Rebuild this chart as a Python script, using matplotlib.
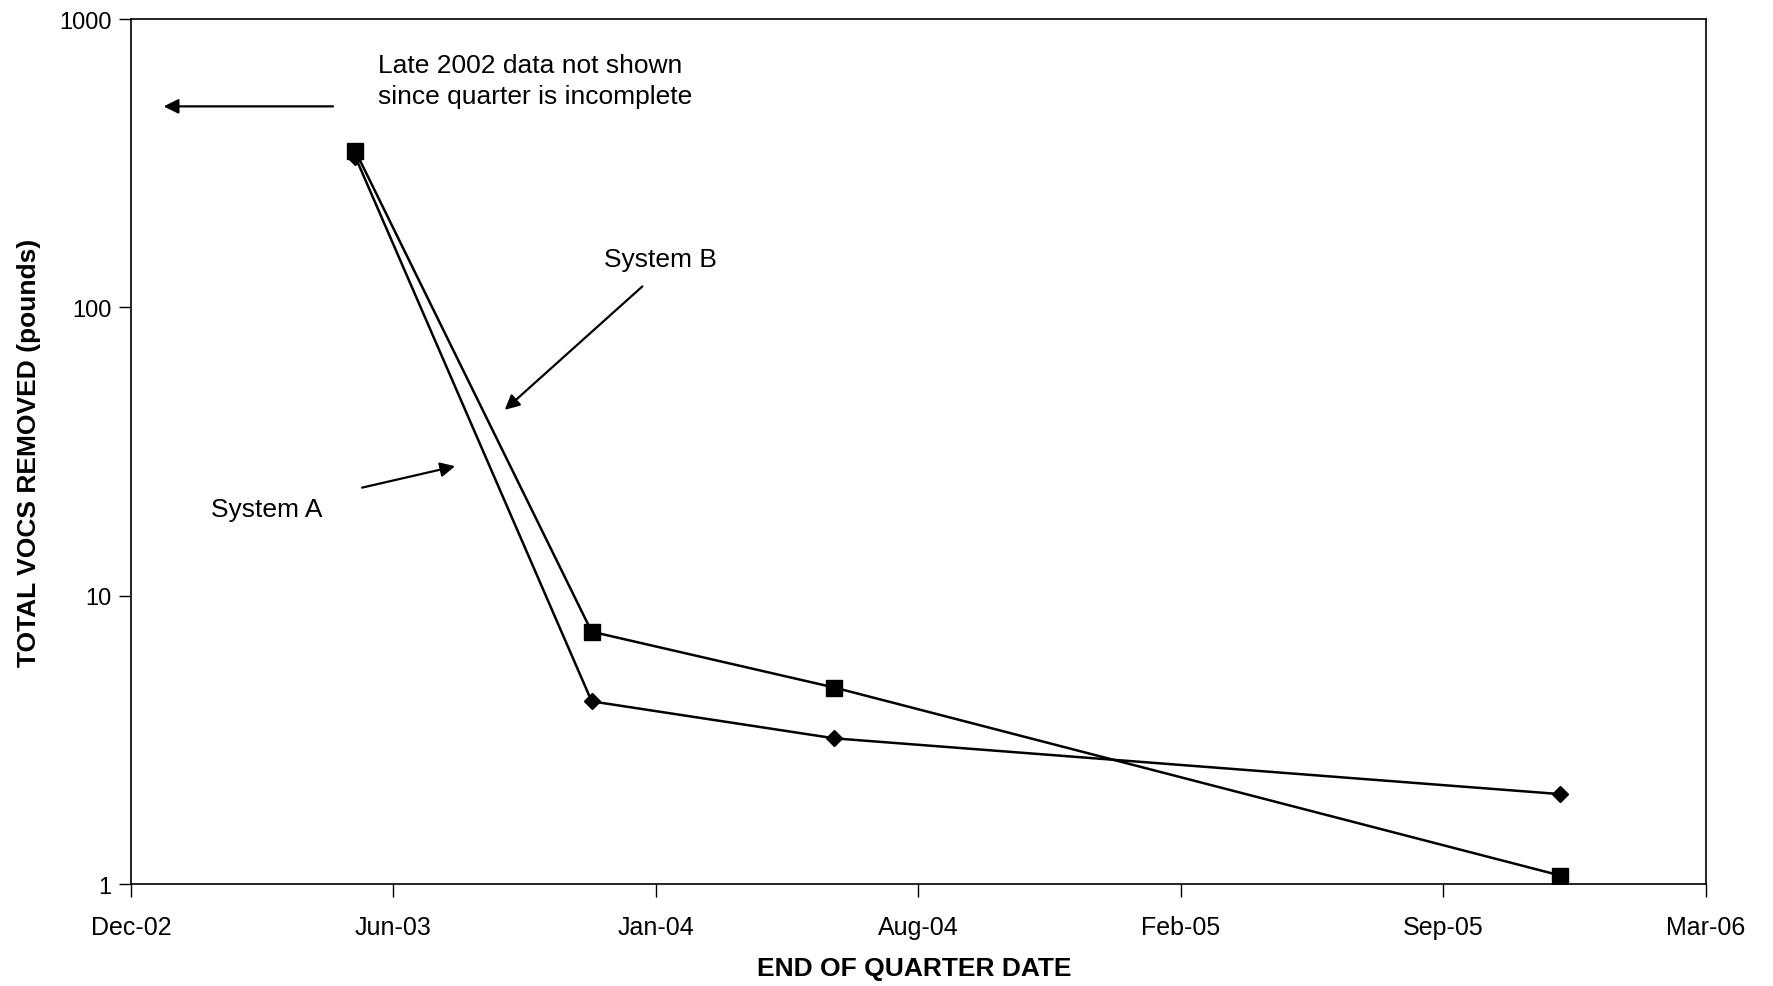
import numpy as np
import pandas as pd
import matplotlib
matplotlib.use("Agg")
import matplotlib.pyplot as plt

plt.rcParams['font.family'] = ['Liberation Sans', 'DejaVu Sans']

# end of quarter dates
quarter_end = pd.to_datetime(["2003-05-30", "2003-11-26", "2004-05-29", "2005-12-03"])
system_a = [332, 4.3, 3.2, 2.05]     # diamonds
system_b = [348, 7.5, 4.8, 1.07]     # squares

# excel style date axis: 200 day major unit
x_start = pd.Timestamp("2002-12-10")
tick_dates = [x_start + pd.Timedelta(days=200 * i) for i in range(7)]
tick_labels = ["Dec-02", "Jun-03", "Jan-04", "Aug-04", "Feb-05", "Sep-05", "Mar-06"]

fig = plt.figure(figsize=(17.73, 9.87), dpi=100)
ax = fig.add_axes([131 / 1773, 1 - 885 / 987, (1706 - 131) / 1773, (885 - 20) / 987])

ax.plot(quarter_end, system_a, color="black", lw=1.8, marker="D", ms=8, zorder=3)
ax.plot(quarter_end, system_b, color="black", lw=1.8, marker="s", ms=11, zorder=3)

ax.set_yscale("log")
ax.set_ylim(1, 1000)
ax.set_yticks([1, 10, 100, 1000])
ax.set_yticklabels(["1", "10", "100", "1000"])
ax.yaxis.set_minor_locator(matplotlib.ticker.NullLocator())

ax.set_xlim(tick_dates[0], tick_dates[-1])
ax.set_xticks(tick_dates)
ax.set_xticklabels(tick_labels)

ax.tick_params(axis="both", direction="out", length=9, width=1)
ax.tick_params(axis="y", labelsize=17, pad=5)
ax.tick_params(axis="x", labelsize=18, pad=13)
for s in ax.spines.values():
    s.set_linewidth(1.2)

ax.set_xlabel("END OF QUARTER DATE", fontsize=19, fontweight="bold")
ax.xaxis.set_label_coords(0.497, -0.083)
ax.set_ylabel("TOTAL VOCS REMOVED (pounds)", fontsize=19, fontweight="bold")
ax.yaxis.set_label_coords(-0.057, 0.5)

arrow = dict(arrowstyle="-|>", color="black", lw=1.6, mutation_scale=22)
ax.annotate("", xy=(0.019, 0.899), xytext=(0.130, 0.899), xycoords="axes fraction",
            arrowprops=arrow)
ax.text(0.157, 0.929, "Late 2002 data not shown\nsince quarter is incomplete",
        transform=ax.transAxes, fontsize=19, va="center", ha="left", linespacing=1.4)

ax.text(0.300, 0.723, "System B", transform=ax.transAxes, fontsize=19, va="center")
ax.annotate("", xy=(0.236, 0.546), xytext=(0.326, 0.693), xycoords="axes fraction",
            arrowprops=arrow)

ax.text(0.051, 0.434, "System A", transform=ax.transAxes, fontsize=19, va="center")
ax.annotate("", xy=(0.2075, 0.4837), xytext=(0.145, 0.4575), xycoords="axes fraction",
            arrowprops=arrow)

fig.savefig("out.png", dpi=100)
